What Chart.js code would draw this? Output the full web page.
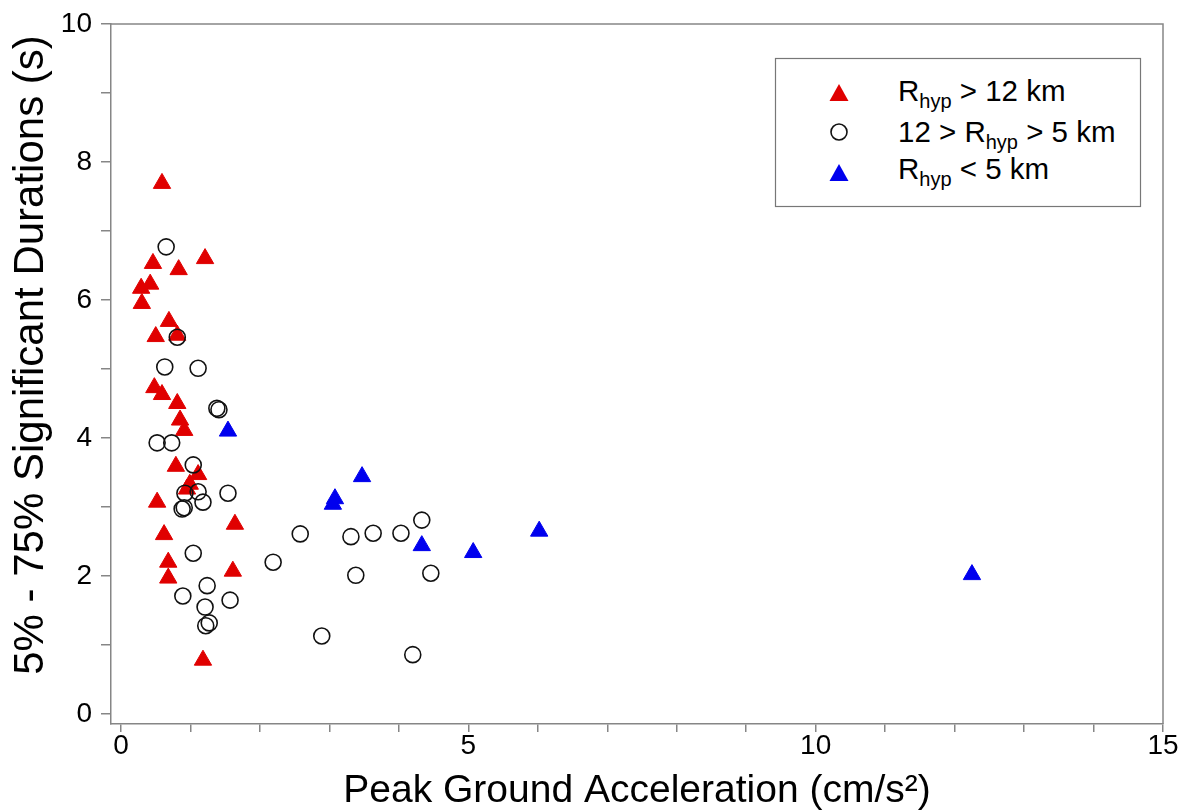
<!DOCTYPE html>
<html>
<head>
<meta charset="utf-8">
<script src="https://cdn.jsdelivr.net/npm/chart.js@4/dist/chart.umd.min.js"></script>
<style>
html,body{margin:0;padding:0;background:#fff;}
#wrap{position:relative;width:1184px;height:811px;overflow:hidden;}
#c{position:absolute;left:0;top:0;}
#legend{position:absolute;left:0;top:0;pointer-events:none;}
#legend text{font-family:"Liberation Sans",Arial,sans-serif;fill:#000;white-space:pre;}
</style>
</head>
<body>
<div id="wrap">
<canvas id="c" width="1184" height="811"></canvas>
<svg id="legend" width="1184" height="811" xmlns="http://www.w3.org/2000/svg" xml:space="preserve">
<text x="0" y="0" font-size="42" text-anchor="middle" transform="translate(43,355) rotate(-90)">5% - 75% Significant Durations (s)</text>
<rect x="775.5" y="58.5" width="365" height="148" fill="#fff" stroke="#777" stroke-width="1.2"/>
<polygon points="839,84 829.5,101 848.5,101" fill="#e00000"/>
<circle cx="839" cy="132" r="8" fill="none" stroke="#111" stroke-width="1.6"/>
<polygon points="839,164 829.5,181 848.5,181" fill="#0000ee"/>
<text x="898" y="101" font-size="29.5">R<tspan font-size="20" dy="7">hyp</tspan><tspan dy="-7"> &gt; 12 km</tspan></text>
<text x="898" y="142" font-size="29.5">12 &gt; R<tspan font-size="20" dy="7">hyp</tspan><tspan dy="-7"> &gt; 5 km</tspan></text>
<text x="898" y="179" font-size="29.5">R<tspan font-size="20" dy="7">hyp</tspan><tspan dy="-7"> &lt; 5 km</tspan></text>
</svg>
</div>
<script>
// Rhyp > 12 km (red triangles)
const farX = [0.59, 1.21, 0.46, 0.83, 0.29, 0.42, 0.30, 0.69, 0.50, 0.81, 0.48, 0.59, 0.81, 0.85, 0.91, 0.79, 1.11, 0.99, 0.95, 0.52, 1.64, 0.62, 0.68, 0.68, 1.61, 1.18];
const farY = [7.69, 6.60, 6.53, 6.44, 6.17, 6.23, 5.95, 5.69, 5.47, 5.49, 4.73, 4.63, 4.50, 4.26, 4.11, 3.59, 3.47, 3.33, 3.26, 3.07, 2.75, 2.60, 2.20, 1.97, 2.07, 0.78];
// 12 > Rhyp > 5 km (open circles)
const midX = [0.65, 0.81, 0.63, 1.11, 1.38, 1.41, 0.52, 0.73, 1.04, 0.92, 1.11, 1.18, 1.54, 0.88, 0.91, 1.04, 2.19, 0.89, 1.24, 1.21, 1.57, 1.22, 1.27, 2.58, 3.31, 3.63, 4.03, 4.33, 3.38, 4.46, 2.89, 4.20];
const midY = [6.77, 5.46, 5.03, 5.01, 4.43, 4.41, 3.93, 3.93, 3.61, 3.20, 3.22, 3.07, 3.20, 2.97, 2.99, 2.33, 2.20, 1.71, 1.86, 1.55, 1.65, 1.28, 1.32, 2.61, 2.57, 2.62, 2.62, 2.81, 2.01, 2.04, 1.13, 0.86];
// Rhyp < 5 km (blue triangles)
const nearX = [1.54, 3.47, 3.08, 3.05, 4.33, 5.07, 6.02, 12.25];
const nearY = [4.10, 3.44, 3.12, 3.04, 2.44, 2.34, 2.65, 2.02];
// labelled ticks
const xTickLabels = [0, 5, 10, 15];
const yTickLabels = [0, 2, 4, 6, 8, 10];

const FONT = '"Liberation Sans", Arial, sans-serif';
const AXIS = '#868686';
const pts = (xs, ys) => xs.map((x, i) => ({x: x, y: ys[i]}));

const framePlugin = {
  id: 'frame',
  afterDraw(chart) {
    const {ctx, chartArea: a} = chart;
    ctx.save();
    ctx.strokeStyle = AXIS;
    ctx.lineWidth = 1.5;
    ctx.beginPath();
    ctx.moveTo(a.left, a.top);
    ctx.lineTo(a.right, a.top);
    ctx.lineTo(a.right, a.bottom);
    ctx.stroke();
    ctx.restore();
  }
};

new Chart(document.getElementById('c'), {
  type: 'scatter',
  data: {
    datasets: [
      {label: 'Rhyp > 12 km', data: pts(farX, farY), pointStyle: 'triangle', pointRadius: 10, pointHoverRadius: 10,
       backgroundColor: '#e00000', borderColor: '#e00000', borderWidth: 1, order: 3},
      {label: '12 > Rhyp > 5 km', data: pts(midX, midY), pointStyle: 'circle', pointRadius: 8, pointHoverRadius: 8,
       backgroundColor: 'rgba(0,0,0,0)', borderColor: '#111', borderWidth: 1.6, order: 2},
      {label: 'Rhyp < 5 km', data: pts(nearX, nearY), pointStyle: 'triangle', pointRadius: 10, pointHoverRadius: 10,
       backgroundColor: '#0000ee', borderColor: '#0000ee', borderWidth: 1, order: 1}
    ]
  },
  options: {
    responsive: false,
    animation: false,
    devicePixelRatio: 1,
    layout: {padding: {top: 24, right: 21, left: 0, bottom: 0}},
    plugins: {legend: {display: false}, tooltip: {enabled: false}},
    scales: {
      x: {
        type: 'linear', min: -0.144, max: 15,
        ticks: {stepSize: 1, includeBounds: false, autoSkip: false, maxRotation: 0, padding: 0, color: '#000',
                font: {family: FONT, size: 28, lineHeight: 1},
                callback: v => xTickLabels.includes(v) ? String(v) : ''},
        grid: {drawOnChartArea: false, drawTicks: true, tickLength: 8, color: AXIS, lineWidth: 1.5},
        border: {display: true, color: AXIS, width: 1.5},
        title: {display: true, text: 'Peak Ground Acceleration (cm/s²)', color: '#000',
                font: {family: FONT, size: 39, lineHeight: 1}, padding: {top: 0, bottom: 0}},
        afterFit: s => { s.height = 87; }
      },
      y: {
        type: 'linear', min: -0.145, max: 10,
        ticks: {stepSize: 1, includeBounds: false, autoSkip: false, padding: 9, color: '#000',
                font: {family: FONT, size: 28, lineHeight: 1},
                callback: v => yTickLabels.includes(v) ? String(v) : ''},
        grid: {drawOnChartArea: false, drawTicks: true, tickLength: 10, color: AXIS, lineWidth: 1.5},
        border: {display: true, color: AXIS, width: 1.5},
        title: {display: false},
        afterFit: s => { s.width = 111; }
      }
    }
  },
  plugins: [framePlugin]
});
</script>
</body>
</html>
